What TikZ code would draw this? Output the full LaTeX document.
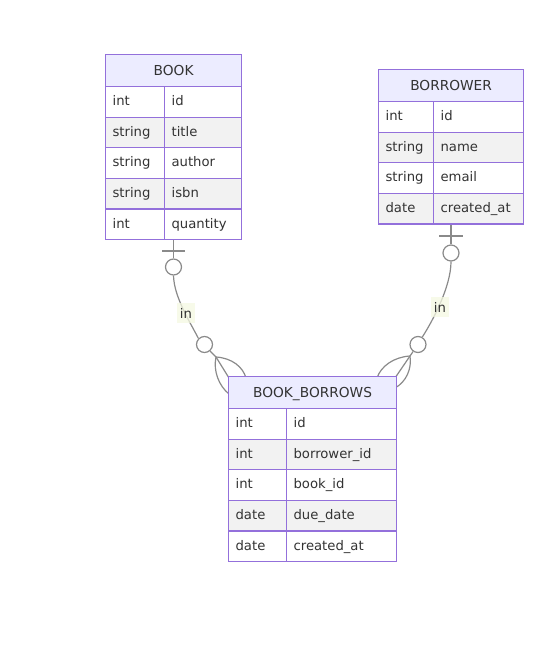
\documentclass[tikz,border=0pt]{standalone}
\usepackage{fontspec}
\setmainfont{DejaVu Sans}
\usetikzlibrary{backgrounds}
\definecolor{erborder}{HTML}{9370DB}
\definecolor{erhead}{HTML}{ECECFF}
\definecolor{rowgray}{HTML}{F2F2F2}
\definecolor{ertext}{HTML}{333333}
\definecolor{relline}{HTML}{8A8A8A}
\definecolor{lblbg}{HTML}{F4F8E2}
\newcommand\ertable[7]{%
  \pgfmathsetmacro\hw{(#5-#2)*0.75}%
  \node[hdr, minimum width=\hw pt, anchor=north west] (#1) at (#2,#3) {#6};
  \foreach \ty/\nm [count=\i from 0] in {#7} {
    \pgfmathsetmacro\yy{#3+32+30.6*\i}
    \pgfmathsetmacro\twa{(#4-#2-14)*0.75}
    \pgfmathsetmacro\twb{(#5-#4-14)*0.75}
    \pgfmathtruncatemacro\odd{mod(\i,2)}
    \ifnum\odd=1 \def\fc{rowgray}\else\def\fc{white}\fi
    \node[cell, fill=\fc, text width=\twa pt, anchor=north west] (#1-t\i) at (#2,\yy) {\ty};
    \node[cell, fill=\fc, text width=\twb pt, anchor=north west] (#1-n\i) at (#4,\yy) {\nm};
  }
}
\begin{document}
\begin{tikzpicture}[x=0.75pt,y=-0.75pt,
  hdr/.style={draw=erborder, line width=0.9pt, fill=erhead, minimum height=24pt, inner sep=0pt,
    text height=7.6pt, text depth=0pt,
    text=ertext, font=\fontsize{10.3}{12}\selectfont},
  cell/.style={draw=erborder, line width=0.9pt, minimum height=22.95pt, inner xsep=5.25pt, inner ysep=0pt,
    text height=7.4pt, text depth=1.6pt,
    align=left, text=ertext, font=\fontsize{9.9}{11}\selectfont},
  rel/.style={draw=relline, line width=0.9pt},
  onecirc/.style={circle, draw=relline, line width=0.9pt, fill=white, minimum size=12pt, inner sep=0pt},
  lbl/.style={fill=lblbg, fill opacity=0.75, text opacity=1, text=ertext, inner xsep=2pt, inner ysep=3.5pt,
    font=\fontsize{9.9}{11}\selectfont}]
\useasboundingbox (0,0) rectangle (543,660);

% tables
\ertable{book}{105}{54}{164}{241}{BOOK}{int/id,string/title,string/author,string/isbn,int/quantity}
\ertable{borrower}{378}{69}{433}{523}{BORROWER}{int/id,string/name,string/email,date/created\_at}
\ertable{bb}{228}{376}{286}{396}{BOOK\_BORROWS}{int/id,int/borrower\_id,int/book\_id,date/due\_date,date/created\_at}

% relationship BOOK -- BOOK_BORROWS
\node[onecirc] (c1) at (173.5,267) {};
\node[onecirc] (c2) at (204.5,344.5) {};
\coordinate (a1) at (216,357);
\coordinate (b1) at (173.5,240);
\node[lbl] (l1) at (186,313) {in};

% relationship BORROWER -- BOOK_BORROWS
\node[onecirc] (c3) at (451,253) {};
\node[onecirc] (c4) at (418,344.5) {};
\coordinate (a2) at (410,356);
\coordinate (b2) at (451,224);
\node[lbl] (l2) at (440,307) {in};

\begin{scope}[on background layer]
  \draw[rel] (b1) -- (c1);
  \draw[rel] (162,251) -- (185,251);
  \draw[rel] (c1.south) .. controls (174,297) and (190,322) .. (c2.135);
  \draw[rel] (c2.-50) -- (a1);
  \draw[rel] (a1) .. controls (232,358) and (243,367) .. (246,378);
  \draw[rel] (a1) -- (229,378);
  \draw[rel] (a1) .. controls (213,371) and (219,386) .. (229,394);

  \draw[rel] (b2) -- (c3);
  \draw[rel] (439,236) -- (463,236);
  \draw[rel] (c3.south) .. controls (451,287) and (432,322) .. (c4.60);
  \draw[rel] (c4.-125) -- (a2);
  \draw[rel] (a2) .. controls (394,357) and (381,366) .. (377,378);
  \draw[rel] (a2) -- (395,378);
  \draw[rel] (a2) .. controls (412,369) and (406,382) .. (395,388);
\end{scope}
\end{tikzpicture}
\end{document}
